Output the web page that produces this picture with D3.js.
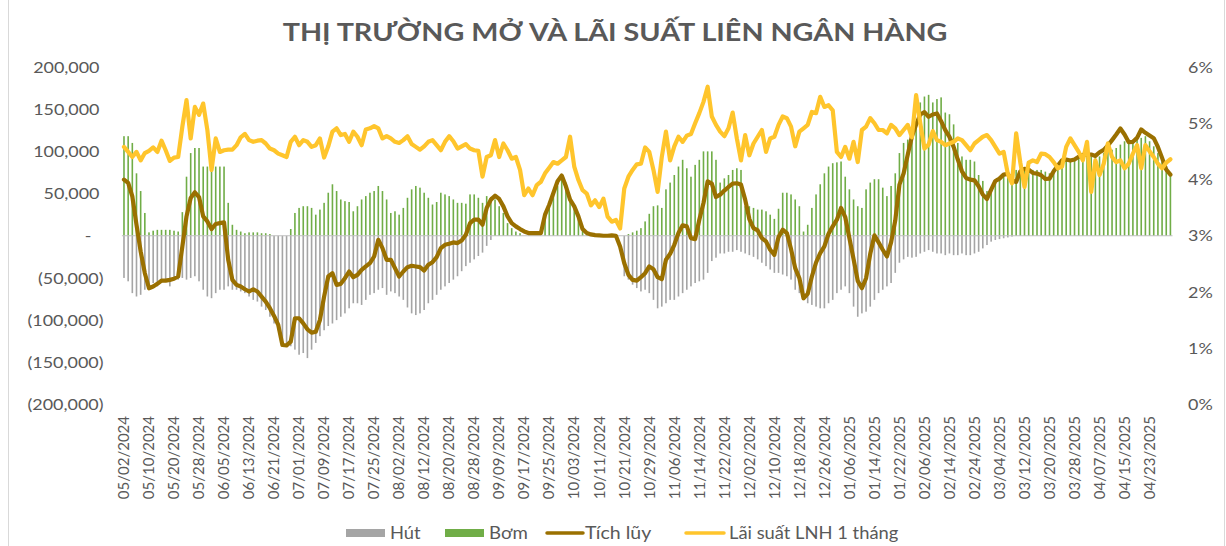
<!DOCTYPE html>
<html>
<head>
<meta charset="utf-8">
<script src="https://cdn.jsdelivr.net/npm/d3@7"></script>
<style>
  body { margin: 0; background: #fff; }
  text { font-family: Lato, "Open Sans", sans-serif; fill: #595959; }
</style>
</head>
<body>
<svg id="chart" width="1226" height="546"></svg>
<script>
// Category labels (one every 6 sessions)
var tickLabels = ["05/02/2024","05/10/2024","05/20/2024","05/28/2024","06/05/2024","06/13/2024","06/21/2024",
  "07/01/2024","07/09/2024","07/17/2024","07/25/2024","08/02/2024","08/12/2024","08/20/2024","08/28/2024",
  "09/09/2024","09/17/2024","09/25/2024","10/03/2024","10/11/2024","10/21/2024","10/29/2024","11/06/2024",
  "11/14/2024","11/22/2024","12/02/2024","12/10/2024","12/18/2024","12/26/2024","01/06/2025","01/14/2025",
  "01/22/2025","02/06/2025","02/14/2025","02/24/2025","03/04/2025","03/12/2025","03/20/2025","03/28/2025",
  "04/07/2025","04/15/2025","04/23/2025"];

// Bơm (injection), billion VND
var bom = [118000,118000,110000,74000,53000,27000,4000,6000,7000,7000,
  7000,7000,6000,5000,28000,70000,98000,104000,104000,82000,
  82000,82000,82000,82000,82000,39000,13000,7000,5000,3000,
  4000,4000,4000,3000,3000,2000,0,0,0,0,
  8000,27000,33000,35000,35000,33000,25000,31000,39000,51000,
  61000,53000,43000,41000,40000,29000,35000,43000,47000,51000,
  53000,59000,53000,43000,27000,29000,25000,33000,45000,55000,
  59000,57000,51000,45000,37000,40000,51000,49000,47000,43000,
  39000,39000,38000,49000,49000,45000,39000,47000,46000,43000,
  35000,27000,15000,9000,5000,3000,0,0,0,0,
  0,23000,35000,49000,59000,70000,63000,43000,35000,23000,
  11000,5000,2000,0,0,0,0,0,0,0,
  0,2000,4000,6000,9000,17000,26000,35000,36000,33000,
  55000,63000,72000,82000,90000,80000,70000,84000,90000,100000,
  100000,100000,90000,63000,68000,72000,78000,80000,78000,35000,
  35000,33000,31000,31000,29000,25000,20000,32000,51000,51000,
  49000,43000,35000,5000,13000,33000,49000,61000,74000,82000,
  86000,87000,88000,70000,55000,43000,35000,33000,55000,63000,
  67000,67000,57000,47000,59000,74000,98000,110000,114000,120000,
  134000,158000,165000,167000,158000,162000,164000,146000,144000,132000,
  110000,94000,90000,90000,88000,72000,65000,53000,57000,65000,
  69000,72000,74000,76000,78000,78000,78000,78000,78000,78000,
  78000,76000,74000,78000,82000,86000,90000,90000,90000,94000,
  94000,94000,94000,92000,94000,98000,100000,102000,104000,108000,
  112000,114000,112000,116000,116000,118000,112000,106000,98000,88000,
  82000,74000];

// Hút (withdrawal), billion VND
var hut = [-50000,-54000,-68000,-72000,-70000,-64000,-60000,-56000,-60000,-56000,
  -52000,-60000,-52000,-52000,-50000,-52000,-50000,-48000,-54000,-64000,
  -72000,-74000,-68000,-64000,-64000,-60000,-64000,-64000,-66000,-68000,
  -72000,-76000,-78000,-84000,-88000,-96000,-104000,-112000,-124000,-127000,
  -131000,-135000,-141000,-139000,-145000,-135000,-127000,-119000,-112000,-107000,
  -104000,-100000,-96000,-92000,-86000,-80000,-80000,-82000,-76000,-70000,
  -68000,-64000,-62000,-70000,-66000,-68000,-72000,-76000,-85000,-92000,
  -94000,-92000,-88000,-80000,-76000,-70000,-64000,-60000,-56000,-52000,
  -48000,-42000,-36000,-32000,-28000,-24000,-20000,-12000,-5000,0,
  0,0,0,0,0,0,0,0,0,0,
  0,0,0,0,0,0,0,0,0,0,
  0,0,0,0,0,0,0,0,0,0,
  -48000,-52000,-58000,-62000,-66000,-64000,-68000,-76000,-86000,-84000,
  -80000,-76000,-76000,-72000,-68000,-64000,-60000,-56000,-54000,-52000,
  -44000,-30000,-26000,-21000,-21000,-19000,-19000,-17000,-19000,-21000,
  -23000,-25000,-28000,-32000,-36000,-40000,-44000,-44000,-46000,-48000,
  -52000,-64000,-68000,-76000,-80000,-82000,-84000,-86000,-86000,-80000,
  -76000,-68000,-64000,-60000,-68000,-84000,-96000,-92000,-90000,-84000,
  -76000,-68000,-64000,-60000,-56000,-44000,-32000,-28000,-25000,-26000,
  -25000,-21000,-19000,-17000,-19000,-21000,-21000,-23000,-21000,-23000,
  -23000,-21000,-23000,-23000,-21000,-19000,-15000,-11000,-7000,-5000,
  -4000,-3000,-2000,-1000,0,0,0,0,0,0,
  0,0,0,0,0,0,0,0,0,0,
  0,0,0,0,0,0,0,0,0,0,
  0,0,0,0,0,0,0,0,0,0,
  0,0];

// Tích lũy (cumulative net), billion VND
var tichLuy = [66500,62600,46700,13100,-18600,-44400,-62200,-60200,-57000,-53100,
  -53100,-52300,-51000,-48300,-12700,23000,44700,51500,45900,23000,
  17000,7900,13900,15000,15800,-28500,-52300,-58200,-60200,-63400,
  -66100,-63400,-66100,-72100,-78000,-85900,-95000,-105700,-129500,-129900,
  -125500,-97800,-97800,-103800,-110900,-114800,-113700,-99800,-72100,-48300,
  -44400,-58200,-57000,-50300,-42400,-49100,-46300,-40400,-36400,-32500,
  -24600,-4800,-14700,-28500,-28500,-38400,-48300,-42400,-37200,-35600,
  -36400,-37200,-41200,-34500,-31300,-25300,-14700,-10700,-9500,-7900,
  -8700,-5500,1200,15000,19000,19000,13100,32900,42800,47500,
  43600,34800,23000,15000,11100,7900,5100,3200,3200,3200,
  3200,25000,36800,50700,64500,71300,58600,42800,34800,23000,
  7900,3200,1600,800,400,0,0,400,0,-12700,
  -32500,-46300,-52300,-53100,-49100,-44400,-36400,-39600,-49100,-51500,
  -28500,-21400,-10700,3200,12300,11100,-2800,-4000,19000,38800,
  64500,61800,45900,48700,53500,57800,61800,62200,60600,42800,
  19800,9100,6300,-2800,-6700,-16600,-22600,-1600,7100,3200,
  -15800,-38400,-50300,-74100,-68900,-48300,-31700,-20600,-12700,2400,
  11100,19000,32900,22200,-2800,-27700,-53500,-62200,-50300,-21400,
  400,-7900,-16600,-24600,-7900,18200,60600,73700,96200,118000,
  131900,143700,146500,141000,143700,144900,135800,125100,117200,105300,
  90300,76400,68500,66500,65700,58600,48700,43600,54600,64900,
  67700,72500,73300,65700,63800,76400,79200,78400,74400,73700,
  71700,67300,67700,76400,83200,89500,90300,89100,90300,93500,
  95800,96200,96200,94600,99000,101800,106900,113300,120000,127100,
  120000,110900,111300,116000,125900,122000,118800,115600,105300,92300,
  78400,72500];

// Lãi suất LNH 1 tháng, %
var laiSuat = [4.58,4.49,4.40,4.49,4.34,4.47,4.51,4.57,4.49,4.69,
  4.52,4.33,4.39,4.40,4.94,5.41,4.73,5.29,5.15,5.35,
  4.88,4.17,4.73,4.49,4.52,4.53,4.53,4.61,4.75,4.81,
  4.70,4.67,4.69,4.70,4.64,4.55,4.52,4.46,4.43,4.40,
  4.67,4.76,4.61,4.70,4.67,4.58,4.61,4.73,4.39,4.59,
  4.85,4.91,4.79,4.81,4.67,4.85,4.76,4.61,4.89,4.91,
  4.95,4.91,4.73,4.77,4.73,4.67,4.65,4.70,4.77,4.63,
  4.58,4.53,4.59,4.67,4.70,4.61,4.52,4.67,4.77,4.68,
  4.55,4.59,4.63,4.55,4.52,4.51,4.05,4.40,4.43,4.70,
  4.40,4.64,4.52,4.37,4.40,4.17,3.72,3.84,3.72,3.90,
  3.96,4.11,4.21,4.31,4.28,4.34,4.40,4.76,4.23,3.99,
  3.81,3.75,3.54,3.63,3.51,3.66,3.34,3.25,3.28,3.13,
  3.84,4.05,4.17,4.27,4.28,4.57,4.49,4.17,3.78,4.40,
  4.85,4.34,4.59,4.76,4.67,4.78,4.81,5.00,5.18,5.38,
  5.65,5.12,4.97,4.85,4.77,4.91,5.19,4.73,4.34,4.79,
  4.43,4.64,4.76,4.88,4.49,4.73,4.76,4.97,5.12,5.09,
  4.94,4.59,4.85,4.91,4.97,5.20,5.18,5.47,5.29,5.32,
  5.23,4.49,4.40,4.58,4.37,4.67,4.31,4.88,4.94,5.09,
  5.00,4.88,4.88,4.82,4.97,4.91,4.79,4.88,4.97,4.75,
  5.50,5.00,4.55,4.62,4.86,4.70,4.67,4.61,4.64,4.67,
  4.73,4.70,4.61,4.52,4.64,4.70,4.76,4.79,4.70,4.58,
  4.46,4.49,4.10,3.93,4.82,4.30,3.87,4.30,4.34,4.31,
  4.46,4.45,4.40,4.31,4.20,4.23,4.58,4.73,4.61,4.49,
  4.34,4.67,3.78,4.34,4.08,4.28,4.64,4.40,4.31,4.34,
  4.20,4.28,4.46,4.61,4.20,4.61,4.50,4.40,4.28,4.20,
  4.30,4.36];

var leftTicks = [200000,150000,100000,50000,0,-50000,-100000,-150000,-200000];
var rightTicks = [0,1,2,3,4,5,6];

var colors = {hut: "#a5a5a5", bom: "#70ad47", tich: "#9a7000", lai: "#ffc52c", text: "#595959"};

// Layout
var width = 1226, height = 546;
var plot = {left: 121.9, right: 1172.5, top: 67, bottom: 404.5};
var stretch = 1.12;   // the source picture's text is a bit wide

var svg = d3.select("#chart");

// chart border
svg.append("rect")
  .attr("x", 8.5).attr("y", -1).attr("width", 1216).attr("height", 548)
  .attr("fill", "none").attr("stroke", "#d9d9d9");

// text that is scaled horizontally around its anchor point
function wideText(parent, px, py, k) {
  return parent.append("g")
    .attr("transform", "translate(" + px + "," + py + ") scale(" + k + ",1)")
    .append("text");
}

var x = d3.scaleBand()
  .domain(d3.range(bom.length))
  .range([plot.left, plot.right])
  .padding(0);

var y = d3.scaleLinear().domain([-200000, 200000]).range([plot.bottom, plot.top]);
var y2 = d3.scaleLinear().domain([0, 6]).range([plot.bottom, plot.top]);

var cx = function(i) { return x(i) + x.bandwidth() / 2; };
var barW = 1.6;

// Title, stretched to the width it has in the source
var title = svg.append("g").attr("transform", "translate(615,41)");
var tt = title.append("text")
  .attr("text-anchor", "middle")
  .attr("font-size", 25).attr("font-weight", "bold")
  .text("THỊ TRƯỜNG MỞ VÀ LÃI SUẤT LIÊN NGÂN HÀNG");
var tw = tt.node().getComputedTextLength();
title.attr("transform", "translate(615,41) scale(" + (665 / tw) + ",1)");

// Left axis labels (accounting style)
var fmt = d3.format(",");
var gL = svg.append("g").attr("font-size", 16);
leftTicks.forEach(function(v) {
  if (v > 0) wideText(gL, 99.5, y(v), stretch).attr("text-anchor", "end").attr("dy", "0.35em").text(fmt(v));
  else if (v < 0) wideText(gL, 103.5, y(v), stretch).attr("text-anchor", "end").attr("dy", "0.35em").text("(" + fmt(-v) + ")");
  else wideText(gL, 88, y(v), stretch).attr("text-anchor", "middle").attr("dy", "0.35em").text("-");
});

// Right axis labels
var gR = svg.append("g").attr("font-size", 16);
rightTicks.forEach(function(v) {
  wideText(gR, 1188, y2(v), stretch).attr("dy", "0.35em").text(v + "%");
});

// Bars
svg.append("g").selectAll("rect.hut")
  .data(hut).enter().append("rect")
  .attr("class", "hut")
  .attr("x", function(d, i) { return cx(i) - barW / 2; })
  .attr("width", barW)
  .attr("y", y(0))
  .attr("height", function(d) { return y(d) - y(0); })
  .attr("fill", colors.hut);

svg.append("g").selectAll("rect.bom")
  .data(bom).enter().append("rect")
  .attr("class", "bom")
  .attr("x", function(d, i) { return cx(i) - barW / 2; })
  .attr("width", barW)
  .attr("y", function(d) { return y(d); })
  .attr("height", function(d) { return y(0) - y(d); })
  .attr("fill", colors.bom);

// zero line
svg.append("line")
  .attr("x1", plot.left).attr("x2", plot.right)
  .attr("y1", y(0)).attr("y2", y(0))
  .attr("stroke", "#bfbfbf").attr("stroke-width", 1);

// Lines
var lineL = d3.line().x(function(d, i) { return cx(i); }).y(function(d) { return y(d); });
var lineR = d3.line().x(function(d, i) { return cx(i); }).y(function(d) { return y2(d); });

svg.append("path")
  .datum(tichLuy)
  .attr("fill", "none")
  .attr("stroke", colors.tich)
  .attr("stroke-width", 4.2)
  .attr("stroke-linejoin", "round")
  .attr("stroke-linecap", "round")
  .attr("d", lineL);

svg.append("path")
  .datum(laiSuat)
  .attr("fill", "none")
  .attr("stroke", colors.lai)
  .attr("stroke-width", 4.2)
  .attr("stroke-linejoin", "round")
  .attr("stroke-linecap", "round")
  .attr("d", lineR);

// X axis labels (every 6th session)
var gX = svg.append("g").attr("font-size", 15);
tickLabels.forEach(function(lab, k) {
  var xi = cx(k * 6);
  gX.append("text")
    .attr("transform", "translate(" + xi + ",416) rotate(-90)")
    .attr("text-anchor", "end")
    .attr("dy", "0.35em")
    .text(lab);
});

// Legend
var lg = svg.append("g").attr("font-size", 17);
var legY = 533;
lg.append("rect").attr("x", 346).attr("y", legY - 4).attr("width", 39).attr("height", 8).attr("fill", colors.hut);
wideText(lg, 390, legY, 1.08).attr("dy", "0.35em").text("Hút");
lg.append("rect").attr("x", 445).attr("y", legY - 4).attr("width", 39).attr("height", 8).attr("fill", colors.bom);
wideText(lg, 489, legY, 1.1).attr("dy", "0.35em").text("Bơm");
lg.append("line").attr("x1", 547).attr("x2", 583).attr("y1", legY).attr("y2", legY)
  .attr("stroke", colors.tich).attr("stroke-width", 3.5).attr("stroke-linecap", "round");
wideText(lg, 585, legY, 1.15).attr("dy", "0.35em").text("Tích lũy");
lg.append("line").attr("x1", 686).attr("x2", 724).attr("y1", legY).attr("y2", legY)
  .attr("stroke", colors.lai).attr("stroke-width", 3.5).attr("stroke-linecap", "round");
wideText(lg, 729, legY, 1.08).attr("dy", "0.35em").text("Lãi suất LNH 1 tháng");
</script>
</body>
</html>
